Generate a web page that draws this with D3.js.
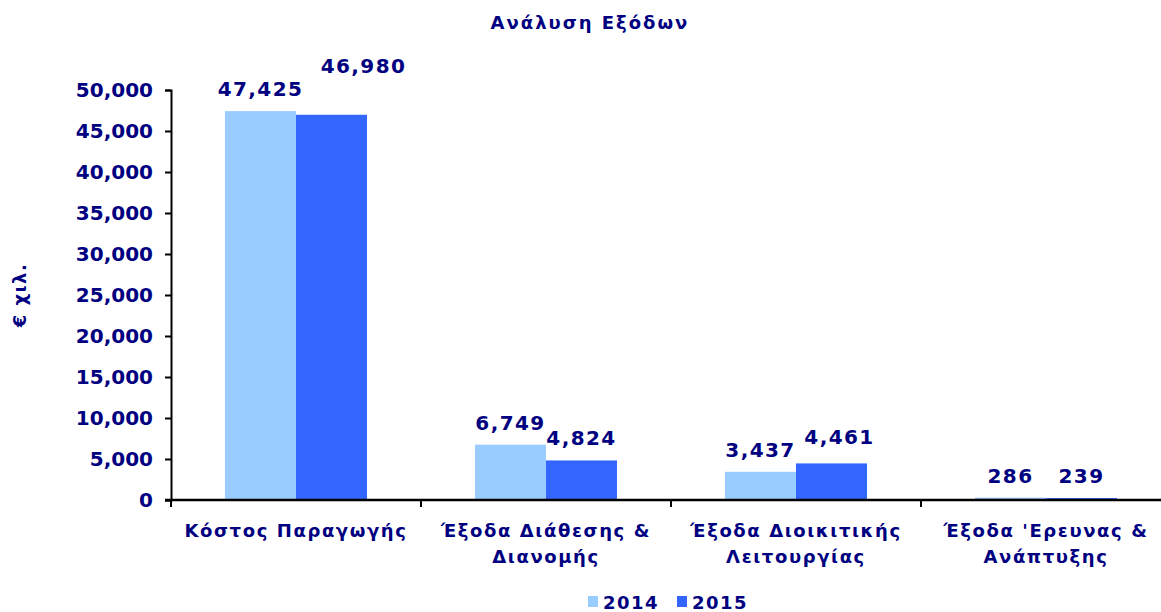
<!DOCTYPE html>
<html>
<head>
<meta charset="utf-8">
<script src="https://cdn.jsdelivr.net/npm/d3@7"></script>
<style>
  html, body { margin: 0; padding: 0; background: #fff; }
  svg { display: block; }
  text { font-family: "DejaVu Sans", Verdana, sans-serif; font-weight: bold; fill: #000080; }
</style>
</head>
<body>
<svg id="chart" width="1161" height="612"></svg>
<script>
// Expense breakdown, thousand euros
const categories = [
  ["Κόστος Παραγωγής"],
  ["Έξοδα Διάθεσης &", "Διανομής"],
  ["Έξοδα Διοικιτικής", "Λειτουργίας"],
  ["Έξοδα 'Ερευνας &", "Ανάπτυξης"]
];
const years = ["2014", "2015"];
const values2014 = [47425, 6749, 3437, 286];
const values2015 = [46980, 4824, 4461, 239];
const yTicks = [0, 5000, 10000, 15000, 20000, 25000, 30000, 35000, 40000, 45000, 50000];
const colors = ["#99CCFF", "#3366FF"];

const svg = d3.select("#chart");
const plotLeft = 171, plotRight = 1171, plotTop = 90, plotBottom = 500;

const x0 = d3.scaleBand().domain(d3.range(categories.length)).range([plotLeft, plotRight]).paddingInner(0).paddingOuter(0);
const groupW = 142;
const x1 = d3.scaleBand().domain(years).range([0, groupW]).padding(0);
const y = d3.scaleLinear().domain([0, 50000]).range([plotBottom, plotTop]);
const fmt = d3.format(",");

// Title
svg.append("text").attr("x", 590).attr("y", 29).attr("text-anchor", "middle")
  .attr("font-size", 18).attr("letter-spacing", 2).text("Ανάλυση Εξόδων");

// Y axis
const yAxis = svg.append("g").attr("transform", `translate(${plotLeft},0)`)
  .call(d3.axisLeft(y).tickValues(yTicks).tickFormat(fmt).tickSize(6).tickPadding(12));
yAxis.select(".domain").attr("stroke", "#000").attr("stroke-width", 2);
yAxis.selectAll(".tick line").attr("stroke", "#000").attr("stroke-width", 2);
yAxis.selectAll(".tick text").attr("font-size", 20).attr("fill", "#000080")
  .attr("font-family", "DejaVu Sans, sans-serif").attr("font-weight", "bold");

// Y title
svg.append("text").attr("transform", "translate(26,295) rotate(-90)")
  .attr("text-anchor", "middle").attr("font-size", 18).attr("letter-spacing", 1.5).text("€ χιλ.");

// Bars and value labels
const series = [values2014, values2015];
const groups = svg.append("g").selectAll("g").data(categories).join("g")
  .attr("transform", (d, i) => `translate(${x0(i) + (x0.bandwidth() - groupW) / 2},0)`);

years.forEach((yr, s) => {
  groups.append("rect")
    .attr("x", x1(yr)).attr("width", x1.bandwidth())
    .attr("y", (d, i) => y(series[s][i]))
    .attr("height", (d, i) => y(0) - y(series[s][i]))
    .attr("fill", colors[s]);
  groups.append("text")
    .attr("class", "val val" + s)
    .attr("x", x1(yr) + x1.bandwidth() / 2)
    .attr("y", (d, i) => y(series[s][i]) - 15)
    .attr("text-anchor", "middle").attr("font-size", 20).attr("letter-spacing", 1.4)
    .text((d, i) => fmt(series[s][i]));
});

// Nudge the second label of a pair when the two collide or nearly touch
groups.each(function() {
  const g = d3.select(this);
  const a = g.select(".val0").node(), b = g.select(".val1").node();
  const wa = a.getComputedTextLength(), wb = b.getComputedTextLength();
  const dx = (+b.getAttribute("x")) - (+a.getAttribute("x"));
  const dy = Math.abs((+b.getAttribute("y")) - (+a.getAttribute("y")));
  const gap = dx - (wa / 2 + wb / 2);
  if (gap < 0 && dy < 18) {
    d3.select(b).attr("x", +b.getAttribute("x") + 32)
      .attr("y", +a.getAttribute("y") - 23);
  } else if (gap < 8 && dy < 12) {
    d3.select(b).attr("x", +b.getAttribute("x") + 8)
      .attr("y", +b.getAttribute("y") - 4);
  }
});

// X axis line and category boundary ticks
svg.append("line").attr("x1", plotLeft - 6).attr("x2", plotRight).attr("y1", plotBottom).attr("y2", plotBottom)
  .attr("stroke", "#000").attr("stroke-width", 2.5);
d3.range(categories.length).forEach(i => {
  svg.append("line").attr("x1", x0(i)).attr("x2", x0(i)).attr("y1", plotBottom).attr("y2", plotBottom + 7)
    .attr("stroke", "#000").attr("stroke-width", 2);
});

// Category labels
svg.append("g").selectAll("text").data(categories).join("text")
  .attr("x", (d, i) => x0(i) + x0.bandwidth() / 2)
  .attr("y", 537).attr("text-anchor", "middle").attr("font-size", 18).attr("letter-spacing", 1.6)
  .each(function(lines) {
    d3.select(this).selectAll("tspan").data(lines).join("tspan")
      .attr("x", d3.select(this).attr("x")).attr("dy", (d, j) => j ? 26 : 0).text(d => d);
  });

// Legend
const legend = svg.append("g").attr("transform", "translate(588,601)");
years.forEach((yr, i) => {
  const g = legend.append("g").attr("transform", `translate(${i * 89},0)`);
  g.append("rect").attr("x", 0).attr("y", -5).attr("width", 10).attr("height", 11).attr("fill", colors[i]);
  g.append("text").attr("x", 15).attr("y", 8).attr("font-size", 18).attr("letter-spacing", 1.5).text(yr);
});
</script>
</body>
</html>
